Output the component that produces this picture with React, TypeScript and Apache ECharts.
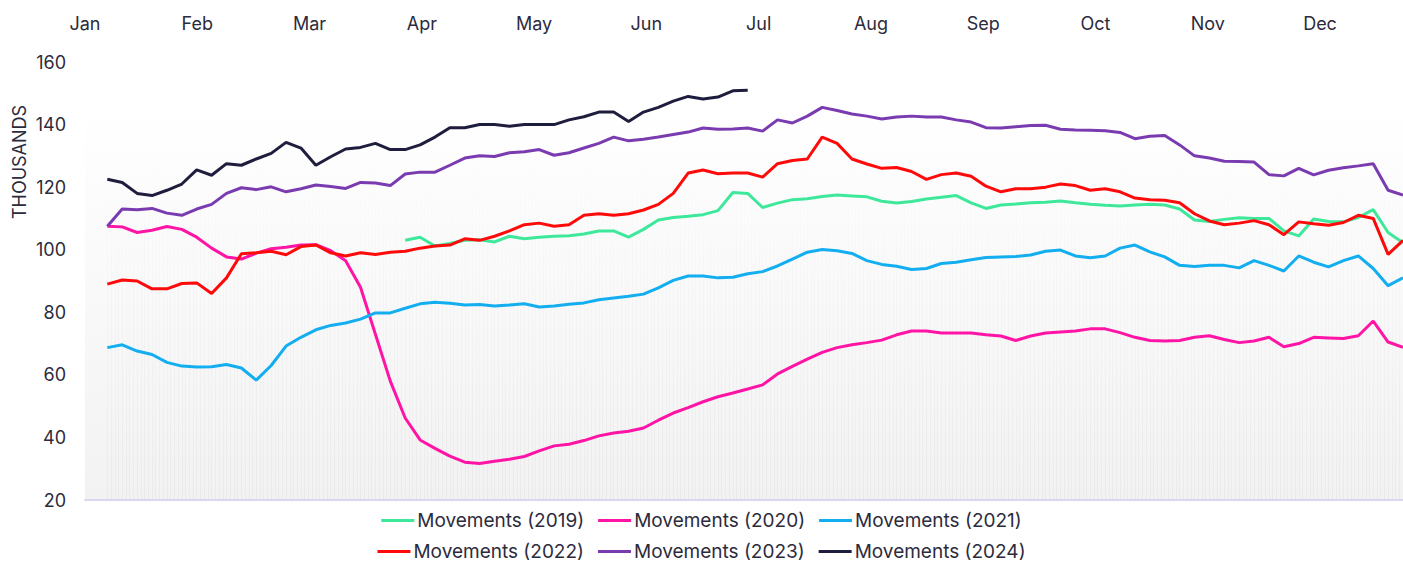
import React, { useEffect, useRef } from 'react';
import * as echarts from 'echarts';

const monthLabels = ['Jan', 'Feb', 'Mar', 'Apr', 'May', 'Jun', 'Jul', 'Aug', 'Sep', 'Oct', 'Nov', 'Dec'];

// Daily category positions; values sampled every 4th day starting at day index 6
const DAY_COUNT = 355;
const SAMPLE_START = 6;
const SAMPLE_STEP = 4;
const dayCategories = Array.from({ length: DAY_COUNT }, (_, i) => `Day ${i + 1}`);

const seriesNames = [
  'Movements (2019)',
  'Movements (2020)',
  'Movements (2021)',
  'Movements (2022)',
  'Movements (2023)',
  'Movements (2024)',
];
const seriesColors = ['#3ee89b', '#ff14a5', '#12aef0', '#ff0a0a', '#7a3bb0', '#1f1d3d'];

// 2019 starts at sample 20
const values2019 = [
  103, 104, 101.2, 102, 103, 103.2, 102.5, 104.3, 103.5, 104,
  104.3, 104.5, 105, 106, 106, 104, 106.5, 109.5, 110.3, 110.7,
  111.2, 112.5, 118.3, 118, 113.5, 114.9, 116, 116.3, 117, 117.5,
  117.2, 116.9, 115.5, 114.9, 115.4, 116.2, 116.8, 117.3, 115, 113.2,
  114.3, 114.6, 115, 115.2, 115.6, 115, 114.5, 114.2, 114, 114.3,
  114.5, 114.3, 113, 109.5, 109, 109.7, 110.2, 110, 110, 106,
  104.4, 109.8, 109, 108.9, 110.3, 112.8, 105.5, 102.2,
];
const values2020 = [
  107.5, 107.3, 105.5, 106.2, 107.4, 106.5, 104, 100.5, 97.7, 97,
  98.9, 100.3, 100.8, 101.5, 101.6, 99.7, 96.5, 88, 73, 58,
  46.2, 39.2, 36.5, 34, 32.1, 31.7, 32.4, 33, 33.9, 35.7,
  37.3, 37.8, 39, 40.5, 41.4, 42, 43, 45.5, 47.8, 49.5,
  51.4, 53, 54.2, 55.5, 56.8, 60.3, 62.7, 65, 67.2, 68.7,
  69.6, 70.3, 71.1, 72.8, 74, 74, 73.4, 73.4, 73.4, 72.8,
  72.4, 71, 72.4, 73.4, 73.7, 74, 74.7, 74.7, 73.5, 72,
  71, 70.8, 71, 72, 72.5, 71.3, 70.3, 70.8, 72, 69,
  70, 72, 71.8, 71.6, 72.5, 77.2, 70.5, 68.8,
];
const values2021 = [
  68.7, 69.6, 67.6, 66.5, 64, 62.8, 62.5, 62.6, 63.3, 62.2,
  58.3, 63, 69.2, 72, 74.4, 75.8, 76.6, 77.8, 79.8, 79.8,
  81.3, 82.7, 83.2, 82.9, 82.3, 82.5, 82, 82.3, 82.7, 81.7,
  82, 82.6, 83, 84, 84.6, 85.1, 85.8, 87.8, 90.2, 91.6,
  91.6, 91, 91.2, 92.3, 93, 94.8, 97, 99.2, 100.1, 99.7,
  98.8, 96.5, 95.3, 94.7, 93.7, 94, 95.6, 96, 96.8, 97.5,
  97.7, 97.8, 98.3, 99.5, 99.9, 98, 97.4, 98, 100.5, 101.5,
  99.3, 97.7, 95, 94.6, 95, 95, 94.2, 96.5, 95, 93.2,
  98, 96, 94.5, 96.5, 98, 94, 88.5, 91,
];
const values2022 = [
  89, 90.3, 90, 87.5, 87.5, 89.2, 89.4, 86, 91, 98.7,
  99, 99.5, 98.4, 101, 101.5, 99, 98, 99, 98.5, 99.2,
  99.5, 100.5, 101.2, 101.5, 103.5, 103, 104.3, 106, 108, 108.5,
  107.5, 108, 111, 111.5, 111, 111.5, 112.7, 114.5, 118, 124.5,
  125.5, 124.3, 124.5, 124.5, 123.2, 127.5, 128.5, 129, 136, 134,
  129, 127.4, 126, 126.3, 125, 122.5, 124, 124.5, 123.5, 120.3,
  118.5, 119.5, 119.5, 120, 121, 120.5, 119, 119.5, 118.5, 116.5,
  116, 115.8, 115, 111.5, 109.2, 108, 108.5, 109.3, 108, 104.8,
  108.9, 108.3, 107.8, 108.7, 111, 110, 98.5, 103,
];
const values2023 = [
  107.5, 113, 112.8, 113.2, 111.7, 111, 113, 114.5, 118, 119.8,
  119.2, 120.1, 118.5, 119.5, 120.7, 120.2, 119.6, 121.5, 121.3, 120.5,
  124.2, 124.8, 124.8, 127, 129.3, 130, 129.8, 131, 131.3, 132,
  130.2, 131, 132.5, 134, 136, 134.8, 135.3, 136, 136.8, 137.6,
  138.9, 138.5, 138.6, 138.9, 137.9, 141.5, 140.5, 142.7, 145.5, 144.5,
  143.4, 142.7, 141.8, 142.4, 142.7, 142.4, 142.4, 141.5, 140.8, 139,
  138.9, 139.3, 139.7, 139.8, 138.5, 138.3, 138.2, 138, 137.5, 135.5,
  136.3, 136.5, 133.5, 130, 129.3, 128.3, 128.2, 128, 124, 123.6,
  126, 123.9, 125.4, 126.2, 126.8, 127.5, 119, 117.5,
];
const values2024 = [
  122.5, 121.5, 118, 117.3, 119, 121, 125.5, 123.8, 127.5, 127,
  129, 130.8, 134.3, 132.5, 127, 129.7, 132.2, 132.7, 134, 132,
  132, 133.5, 136, 139, 139, 140, 140, 139.5, 140, 140,
  140, 141.5, 142.5, 144, 144, 141, 144, 145.5, 147.5, 149,
  148.2, 148.8, 150.8, 151,
];

const seriesValues = [values2019, values2020, values2021, values2022, values2023, values2024];
const firstSamples = [20, 0, 0, 0, 0, 0];

function expand(values: number[], firstSample: number): (number | null)[] {
  const out: (number | null)[] = new Array(DAY_COUNT).fill(null);
  values.forEach((v, j) => {
    const idx = SAMPLE_START + (firstSample + j) * SAMPLE_STEP;
    if (idx < DAY_COUNT) out[idx] = v;
  });
  return out;
}

const FONT = 'Inter, "Open Sans", sans-serif';
const TEXT_COLOR = '#2c2b3c';

export default function App() {
  const ref = useRef<HTMLDivElement>(null);

  useEffect(() => {
    if (!ref.current) return;
    const chart = echarts.init(ref.current, undefined, { renderer: 'svg' });

    const series = seriesNames.map((name, i) => ({
      name,
      type: 'line',
      xAxisIndex: 1,
      yAxisIndex: 0,
      data: expand(seriesValues[i], firstSamples[i]),
      connectNulls: true,
      showSymbol: false,
      symbol: 'none',
      smooth: false,
      lineStyle: { width: 3, color: seriesColors[i] },
      itemStyle: { color: seriesColors[i] },
    }));

    const legendCommon = {
      left: 'center',
      icon: 'rect',
      itemWidth: 33,
      itemHeight: 3,
      itemGap: 14,
      textStyle: { fontSize: 19, color: TEXT_COLOR, fontFamily: FONT, padding: [0, 0, 0, -2] },
    };

    chart.setOption({
      animation: false,
      textStyle: { fontFamily: FONT },
      grid: {
        left: 85,
        right: 0,
        top: 62,
        bottom: 62,
        show: true,
        borderWidth: 0,
        backgroundColor: new echarts.graphic.LinearGradient(0, 0, 0, 1, [
          { offset: 0, color: '#ffffff' },
          { offset: 0.1, color: '#ffffff' },
          { offset: 1, color: '#f2f2f2' },
        ]),
      },
      legend: [
        { ...legendCommon, top: 506, data: seriesNames.slice(0, 3) },
        { ...legendCommon, top: 537, data: seriesNames.slice(3, 6) },
      ],
      xAxis: [
        {
          type: 'value',
          position: 'top',
          min: 0,
          max: 11.739,
          interval: 1,
          axisLine: { show: false },
          axisTick: { show: false },
          splitLine: { show: false },
          axisLabel: {
            fontSize: 18,
            color: TEXT_COLOR,
            fontFamily: FONT,
            margin: 30,
            showMaxLabel: false,
            formatter: (v: number) =>
              Math.abs(v - Math.round(v)) < 1e-6 ? monthLabels[Math.round(v)] ?? '' : '',
          },
        },
        {
          type: 'category',
          position: 'bottom',
          data: dayCategories,
          boundaryGap: false,
          axisLine: { show: true, lineStyle: { color: '#dad7f0', width: 2 } },
          axisTick: { show: false },
          axisLabel: { show: false },
          splitLine: {
            show: true,
            interval: (index: number) => index >= SAMPLE_START,
            lineStyle: {
              width: 1,
              color: new echarts.graphic.LinearGradient(
                0,
                62,
                0,
                500,
                [
                  { offset: 0, color: 'rgba(0,0,0,0)' },
                  { offset: 0.15, color: 'rgba(0,0,0,0)' },
                  { offset: 1, color: 'rgba(0,0,0,0.035)' },
                ],
                true
              ),
            },
          },
        },
      ],
      yAxis: {
        type: 'value',
        min: 20,
        max: 160,
        interval: 20,
        axisLine: { show: false },
        axisTick: { show: false },
        splitLine: { show: false },
        axisLabel: { fontSize: 18, color: TEXT_COLOR, fontFamily: FONT, margin: 19 },
      },
      graphic: [
        {
          type: 'text',
          x: 19,
          y: 162,
          rotation: Math.PI / 2,
          style: {
            text: 'THOUSANDS',
            fontSize: 18,
            fontFamily: FONT,
            fill: TEXT_COLOR,
            align: 'center',
            verticalAlign: 'middle',
          },
        },
      ],
      series,
    });

    return () => chart.dispose();
  }, []);

  return (
    <div
      ref={ref}
      style={{ position: 'fixed', left: 0, top: 0, width: '1403px', height: '562px', background: '#ffffff' }}
    />
  );
}
